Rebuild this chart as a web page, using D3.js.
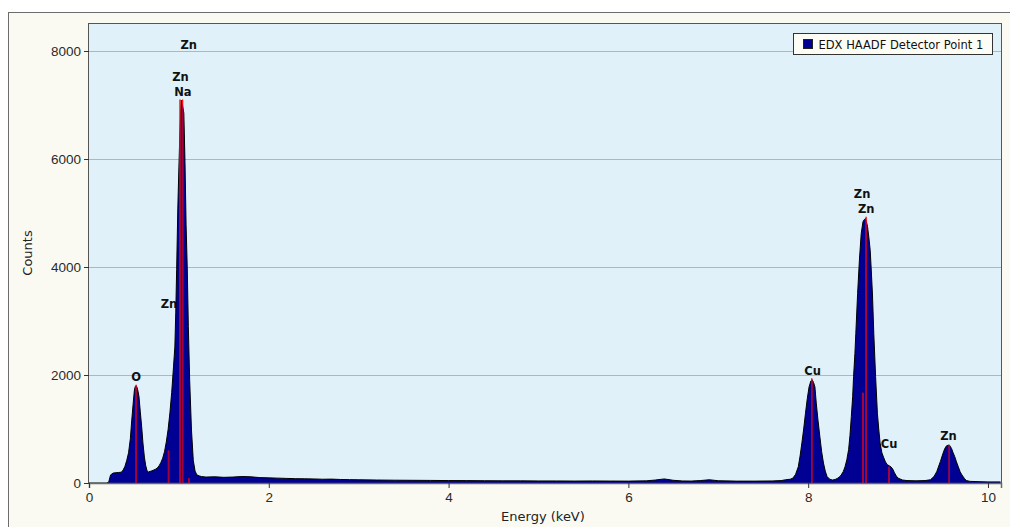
<!DOCTYPE html>
<html>
<head>
<meta charset="utf-8">
<script src="https://cdn.jsdelivr.net/npm/d3@7"></script>
<style>
  body { margin: 0; background: #fff; }
  svg { display: block; font-family: "DejaVu Sans", sans-serif; }
  .tick text { font-size: 13.5px; fill: #2a2a2a; }
  .peak-label { font-family: "DejaVu Sans", sans-serif; font-weight: bold; font-size: 11.5px; fill: #111; }
</style>
</head>
<body>
<div id="chart"></div>
<script>
// spectrum (keV, counts)
const energy = [
  0.00, 0.20, 0.22, 0.24, 0.27, 0.30, 0.33, 0.36, 0.38, 0.40, 0.42, 0.44, 0.46, 0.475, 0.49, 0.505, 0.515, 0.525, 0.535, 0.545, 0.556, 0.57, 0.586, 0.60, 0.616, 0.63, 0.645, 0.66, 0.68, 0.70, 0.72, 0.74, 0.76, 0.78, 0.80, 0.82, 0.84, 0.86, 0.88, 0.90, 0.92, 0.94, 0.955, 0.965, 0.975, 0.988, 1.00, 1.012, 1.025, 1.04, 1.055, 1.068, 1.08, 1.093, 1.105, 1.12, 1.14, 1.16, 1.18, 1.20, 1.23,
  1.25, 1.30, 1.40, 1.50, 1.60, 1.70, 1.80, 1.90, 2.00, 2.10, 2.20, 2.30, 2.40, 2.50, 2.60, 2.70, 2.80, 2.90, 3.00, 3.20, 3.40, 3.60, 3.80, 4.00, 4.20, 4.40, 4.60, 4.80, 5.00, 5.20, 5.40, 5.60, 5.80, 6.00, 6.20, 6.30, 6.40, 6.50, 6.60, 6.70, 6.80, 6.90, 7.00, 7.20, 7.40, 7.60, 7.70, 7.75,
  7.80, 7.83, 7.86, 7.89, 7.91, 7.93, 7.95, 7.97, 7.99, 8.01, 8.03, 8.045, 8.06, 8.075, 8.09, 8.11, 8.13, 8.15, 8.17, 8.19, 8.21, 8.24, 8.27, 8.30, 8.33, 8.36, 8.39, 8.41, 8.43, 8.45, 8.465, 8.48, 8.495, 8.505, 8.52, 8.53, 8.55, 8.57, 8.59, 8.61, 8.625, 8.64, 8.66, 8.675, 8.69, 8.70, 8.715, 8.73, 8.75, 8.77, 8.785, 8.80, 8.82, 8.84, 8.86, 8.88, 8.90, 8.92, 8.94, 8.96, 8.98, 9.00, 9.05, 9.10, 9.20, 9.30, 9.36, 9.40, 9.43, 9.47, 9.50, 9.52, 9.54, 9.57, 9.595, 9.61, 9.63, 9.65, 9.67, 9.69, 9.71, 9.74, 9.76, 9.80, 9.90, 10.00, 10.10, 10.14
];
const counts = [
  0, 0, 20, 150, 185, 190, 195, 200, 240, 310, 420, 560, 820, 1150, 1450, 1720, 1790, 1800, 1770, 1700, 1600, 1330, 1040, 740, 480, 330, 230, 205, 215, 225, 240, 255, 280, 320, 380, 460, 580, 760, 990, 1300, 1680, 2150, 2520, 3150, 3950, 5090, 5850, 6540, 7090, 7000, 6850, 5930, 4780, 3980, 2900, 1900, 980, 420, 220, 150, 130,
  120, 110, 115, 105, 110, 120, 115, 100, 95, 90, 85, 80, 78, 75, 70, 72, 65, 62, 60, 55, 52, 50, 48, 45, 44, 42, 40, 40, 38, 38, 36, 38, 36, 35, 40, 55, 75, 50, 38, 36, 45, 60, 42, 35, 35, 38, 45, 60,
  70, 90, 160, 300, 500, 740, 1000, 1290, 1560, 1780, 1890, 1910, 1860, 1780, 1480, 1150, 860, 580, 370, 220, 120, 70, 55, 65, 90, 130, 210, 300, 430, 620, 880, 1230, 1600, 1970, 2400, 2770, 3510, 4130, 4620, 4840, 4880, 4900, 4750, 4550, 4310, 4000, 3500, 2770, 1970, 1290, 1000, 740, 560, 470, 390, 340, 320, 300, 260, 190, 130, 90, 55, 45, 40, 45, 60, 120, 210, 395, 550, 640, 690, 705, 640, 570, 490, 390, 300, 210, 150, 80, 45, 30, 25, 20, 20, 20
];

// element marker lines
const lineEnergy = [0.525, 0.885, 1.012, 1.041, 1.11, 8.04, 8.61, 8.645, 8.90, 9.57];
const lineHeight = [1820, 600, 7100, 7100, 90, 1940, 1670, 4930, 300, 705];

// peak labels (text, keV, counts at baseline)
const labelText = ['Zn', 'Zn', 'Na', 'Zn', 'O', 'Cu', 'Zn', 'Zn', 'Cu', 'Zn'];
const labelEnergy = [1.11, 1.017, 1.045, 0.89, 0.525, 8.05, 8.60, 8.645, 8.90, 9.56];
const labelCounts = [8037, 7444, 7167, 3241, 1889, 2000, 5278, 5000, 648, 796];

const xTicks = [0, 2, 4, 6, 8, 10];
const yTicks = [0, 2000, 4000, 6000, 8000];
const seriesName = 'EDX HAADF Detector Point 1';

const width = 1010, height = 527;
const margin = {t:24, r:9, b:44, l:89};
const w = width - margin.l - margin.r;
const h = height - margin.t - margin.b;

const svg = d3.select('#chart').append('svg')
  .attr('width', width)
  .attr('height', height);

// outer panel
svg.append('rect')
  .attr('x', 8.5).attr('y', 12.5)
  .attr('width', width).attr('height', height)
  .style('fill', '#fafaf2')
  .style('stroke', '#6d6d6d');

const plot = svg.append('g')
  .attr('transform', `translate(${margin.l},${margin.t})`);

const scaleX = d3.scaleLinear().domain([0, 10.145]).range([0, w]);
const scaleY = d3.scaleLinear().domain([0, 8500]).range([h, 0]);

plot.append('rect')
  .attr('width', w).attr('height', h)
  .style('fill', '#e1f1fa');

// grid
plot.selectAll('.grid')
  .data(yTicks.filter(d => d > 0))
  .enter().append('line')
  .attr('class', 'grid')
  .attr('x1', 0).attr('x2', w)
  .attr('y1', d => Math.round(scaleY(d)) + 0.5)
  .attr('y2', d => Math.round(scaleY(d)) + 0.5)
  .style('stroke', '#7cc7ee');

// labels sit under the spectrum
plot.selectAll('.peak-label')
  .data(labelText)
  .enter().append('text')
  .attr('class', 'peak-label')
  .attr('x', (d, i) => scaleX(labelEnergy[i]))
  .attr('y', (d, i) => scaleY(labelCounts[i]))
  .attr('text-anchor', 'middle')
  .text(d => d);

const spectrum = energy.map((e, i) => [e, counts[i]]);

const area = d3.area()
  .x(d => scaleX(d[0]))
  .y0(h)
  .y1(d => scaleY(d[1]));

const line = d3.line()
  .x(d => scaleX(d[0]))
  .y(d => scaleY(d[1]));

plot.append('clipPath').attr('id', 'under')
  .append('path').attr('d', area(spectrum));

plot.append('path')
  .attr('d', area(spectrum))
  .style('fill', '#000092');

plot.append('path')
  .attr('d', line(spectrum))
  .style('fill', 'none')
  .style('stroke', '#000')
  .style('stroke-width', 1);

// marker lines: bright red, darker where they run over the fill
const markers = lineEnergy.map((e, i) => [e, lineHeight[i]]);
plot.selectAll('.marker')
  .data(markers)
  .enter().append('line')
  .attr('class', 'marker')
  .attr('x1', d => scaleX(d[0])).attr('x2', d => scaleX(d[0]))
  .attr('y1', h).attr('y2', d => scaleY(d[1]))
  .style('stroke', '#ff1010')
  .style('stroke-width', 1.4);

plot.append('g')
  .attr('clip-path', 'url(#under)')
  .selectAll('.marker-in')
  .data(markers)
  .enter().append('line')
  .attr('class', 'marker-in')
  .attr('x1', d => scaleX(d[0])).attr('x2', d => scaleX(d[0]))
  .attr('y1', h).attr('y2', d => scaleY(d[1]))
  .style('stroke', '#a0003c')
  .style('stroke-width', 1.4);

// frame
plot.append('rect')
  .attr('x', -0.5).attr('y', -0.5)
  .attr('width', w + 1).attr('height', h + 1)
  .style('fill', 'none')
  .style('stroke', '#555');

// axes
const axisX = d3.axisBottom(scaleX)
  .tickValues(xTicks)
  .tickSize(5)
  .tickPadding(4)
  .tickFormat(d => d);

const axisY = d3.axisLeft(scaleY)
  .tickValues(yTicks)
  .tickSize(5)
  .tickPadding(3)
  .tickFormat(d => d);

const gx = plot.append('g')
  .attr('transform', `translate(0,${h})`)
  .call(axisX);
gx.select('.domain').style('stroke', '#6a6a6a').style('stroke-width', 1.5);
gx.selectAll('.tick line').style('stroke', '#333');

const gy = plot.append('g').call(axisY);
gy.select('.domain').remove();
gy.selectAll('.tick line').style('stroke', '#333');
gy.selectAll('.tick text').attr('dy', '0.36em');

// axis titles
svg.append('text')
  .attr('x', margin.l + scaleX(5.05))
  .attr('y', 521)
  .attr('text-anchor', 'middle')
  .style('font-size', '13px')
  .style('fill', '#222')
  .text('Energy (keV)');

svg.append('text')
  .attr('transform', 'translate(32,253) rotate(-90)')
  .attr('text-anchor', 'middle')
  .style('font-size', '13px')
  .style('fill', '#222')
  .text('Counts');

// legend
const legend = svg.append('g').attr('transform', 'translate(793.5,33.5)');
legend.append('rect')
  .attr('width', 199).attr('height', 21)
  .style('fill', '#fdfdf6')
  .style('stroke', '#333');
legend.append('rect')
  .attr('x', 10).attr('y', 6)
  .attr('width', 9).attr('height', 9)
  .style('fill', '#000092')
  .style('stroke', '#222');
legend.append('text')
  .attr('x', 25).attr('y', 15)
  .style('font-size', '11.5px')
  .style('fill', '#111')
  .text(seriesName);
</script>
</body>
</html>
